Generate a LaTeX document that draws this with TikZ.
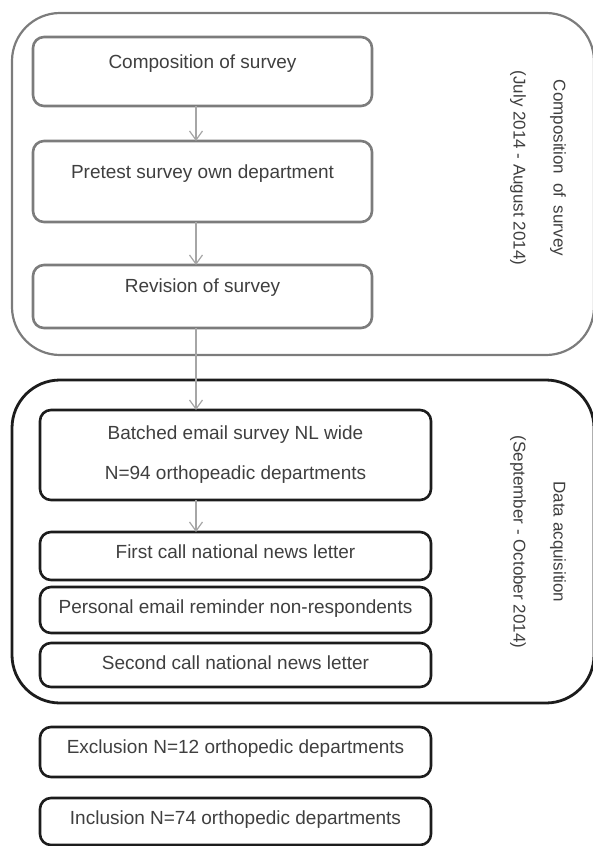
\documentclass[tikz,border=0pt]{standalone}
\usepackage{fontspec}
\setmainfont{Liberation Sans}
\usetikzlibrary{arrows.meta}

\definecolor{txt}{HTML}{3F3F3F}
\definecolor{greyline}{HTML}{7C7C7C}
\definecolor{darkline}{HTML}{1C1C1C}
\definecolor{arrowgrey}{HTML}{A6A6A6}

\begin{document}
\begin{tikzpicture}[x=1pt,y=-1pt,
  every node/.style={text=txt, inner sep=0pt, outer sep=0pt},
  phase/.style={rounded corners=48pt},
  stepbox/.style={draw, rounded corners=11pt, line width=2.6pt, anchor=north,
    font=\fontsize{19}{23}\selectfont},
  upperbox/.style={stepbox, draw=greyline, minimum width=339pt},
  lowerbox/.style={stepbox, draw=darkline, minimum width=391pt},
  flow/.style={draw=arrowgrey, line width=1.2pt,
    -{Straight Barb[length=9pt,width=13pt,line width=1.2pt]}},
  sidelabel/.style={rotate=-90, align=center, font=\fontsize{17}{40}\selectfont}
]
\useasboundingbox (0,0) rectangle (593,846);

% phase frames
\draw[phase, draw=greyline, line width=2.2pt] (12,13) rectangle (594,355);
\draw[phase, draw=darkline, line width=2.8pt] (12,380) rectangle (594,703);

% composition phase
\node[upperbox, text height=31pt, text depth=38pt] (b1) at (202.5,37) {Composition of survey};
\node[upperbox, text height=37pt, text depth=44pt] (b2) at (202.5,141) {Pretest survey own department};
\node[upperbox, text height=27pt, text depth=36pt] (b3) at (202.5,265) {Revision of survey};

% data acquisition phase
\node[lowerbox, text height=29pt, text depth=61pt] (b4) at (235.5,410)
  {\begin{tabular}[t]{@{}c@{}}Batched email survey NL wide\\[17pt]N=94 orthopeadic departments\end{tabular}};
\node[lowerbox, text height=26pt, text depth=22pt] (b5) at (235.5,532) {First call national news letter};
\node[lowerbox, text height=26pt, text depth=20pt] (b6) at (235.5,587) {Personal email reminder non-respondents};
\node[lowerbox, text height=26pt, text depth=18pt] (b7) at (235.5,643) {Second call national news letter};

% outcome
\node[lowerbox, text height=26pt, text depth=24pt] (b8) at (235.5,727) {Exclusion N=12 orthopedic departments};
\node[lowerbox, text height=26pt, text depth=21pt] (b9) at (235.5,798) {Inclusion N=74 orthopedic departments};

% phase labels
\node[sidelabel] (l1) at (538,168) {Composition\hspace{4pt} of\hspace{4pt} survey\\(July 2014 - August 2014)};
\node[sidelabel] (l2) at (538,542) {Data acquisition\\(September - October 2014)};

% connectors
\draw[flow] ([xshift=-6.5pt]b1.south) -- ([xshift=-6.5pt]b2.north);
\draw[flow] ([xshift=-6.5pt]b2.south) -- ([xshift=-6.5pt]b3.north);
\draw[flow] ([xshift=-6.5pt]b3.south) -- ([xshift=-39.5pt]b4.north);
\draw[flow] ([xshift=-39.5pt]b4.south) -- ([xshift=-39.5pt]b5.north);
\end{tikzpicture}
\end{document}
